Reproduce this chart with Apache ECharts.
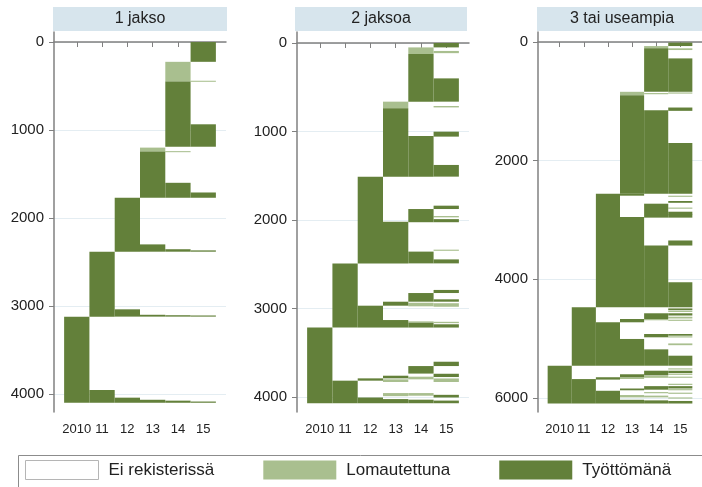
<!DOCTYPE html>
<html>
<head>
<meta charset="utf-8">
<script src="https://cdn.jsdelivr.net/npm/echarts@6/dist/echarts.min.js"></script>
<style>
html,body{margin:0;padding:0;background:#fff;}
#chart{width:702px;height:487px;}
</style>
</head>
<body>
<div id="chart"></div>
<script>
// ---- data ----
var panelTitles = ['1 jakso', '2 jaksoa', '3 tai useampia'];
var stateNames = ['Ei rekisterissä', 'Lomautettuna', 'Työttömänä'];
var xTickValues = [2010, 2011, 2012, 2013, 2014, 2015];
var xTickLabels = ['2010', '11', '12', '13', '14', '15'];
var yTicksP1 = [0, 1000, 2000, 3000, 4000];
var yTicksP2 = [0, 1000, 2000, 3000, 4000];
var yTicksP3 = [0, 2000, 4000, 6000];

// runs: [year, firstRow, lastRow, state]  state 1 = Lomautettuna, 2 = Työttömänä
var runsP1 = [
  [2015, 0, 225, 2],
  [2014, 225, 450, 1],
  [2015, 440, 452, 1],
  [2014, 450, 1190, 2],
  [2015, 935, 1190, 2],
  [2013, 1200, 1245, 1],
  [2014, 1240, 1252, 1],
  [2013, 1245, 1770, 2],
  [2014, 1600, 1770, 2],
  [2015, 1710, 1770, 2],
  [2012, 1770, 2383, 2],
  [2013, 2300, 2383, 2],
  [2014, 2355, 2383, 2],
  [2015, 2368, 2383, 2],
  [2011, 2383, 3121, 2],
  [2012, 3038, 3121, 2],
  [2013, 3100, 3121, 2],
  [2014, 3105, 3121, 2],
  [2015, 3108, 3121, 2],
  [2010, 3121, 4100, 2],
  [2011, 3955, 4100, 2],
  [2012, 4042, 4100, 2],
  [2013, 4066, 4100, 2],
  [2014, 4076, 4100, 2],
  [2015, 4086, 4100, 2]
];

var runsP2 = [
  [2015, 0, 50, 2],
  [2014, 50, 125, 1],
  [2015, 90, 115, 1],
  [2014, 125, 663, 2],
  [2015, 400, 663, 2],
  [2013, 663, 738, 1],
  [2015, 712, 728, 1],
  [2013, 738, 1510, 2],
  [2015, 1002, 1058, 2],
  [2014, 1050, 1510, 2],
  [2015, 1378, 1510, 2],
  [2012, 1510, 2490, 2],
  [2015, 1838, 1876, 2],
  [2014, 1876, 2025, 2],
  [2015, 1955, 1970, 1],
  [2015, 1990, 2025, 2],
  [2013, 2020, 2490, 2],
  [2015, 2335, 2348, 1],
  [2014, 2357, 2490, 2],
  [2015, 2445, 2490, 2],
  [2011, 2490, 3215, 2],
  [2015, 2790, 2825, 2],
  [2014, 2825, 2923, 2],
  [2015, 2896, 2923, 2],
  [2013, 2923, 2968, 2],
  [2014, 2935, 2975, 1],
  [2015, 2940, 2980, 1],
  [2012, 2968, 3215, 2],
  [2013, 3130, 3215, 2],
  [2014, 3145, 3160, 1],
  [2015, 3150, 3165, 1],
  [2014, 3160, 3215, 2],
  [2015, 3178, 3215, 2],
  [2010, 3215, 4070, 2],
  [2015, 3601, 3650, 2],
  [2014, 3650, 3735, 2],
  [2015, 3737, 3774, 2],
  [2013, 3759, 3789, 2],
  [2014, 3770, 3800, 1],
  [2015, 3790, 3830, 1],
  [2012, 3789, 3815, 2],
  [2013, 3800, 3830, 1],
  [2011, 3815, 4070, 2],
  [2013, 3955, 3990, 1],
  [2014, 3955, 3985, 1],
  [2015, 3975, 4005, 2],
  [2012, 4005, 4070, 2],
  [2013, 4023, 4070, 2],
  [2014, 4030, 4070, 2],
  [2015, 4040, 4070, 2]
];

var runsP3 = [
  [2015, 10, 68, 2],
  [2014, 68, 106, 1],
  [2015, 106, 135, 1],
  [2014, 106, 839, 2],
  [2015, 276, 839, 2],
  [2013, 839, 895, 1],
  [2014, 860, 880, 1],
  [2015, 850, 870, 1],
  [2013, 895, 2556, 2],
  [2015, 1104, 1160, 2],
  [2014, 1149, 2556, 2],
  [2015, 1700, 2556, 2],
  [2012, 2556, 4471, 2],
  [2013, 2556, 2590, 2],
  [2015, 2590, 2610, 1],
  [2015, 2680, 2710, 2],
  [2014, 2725, 2960, 2],
  [2015, 2790, 2810, 1],
  [2015, 2860, 2960, 2],
  [2015, 2900, 2915, 1],
  [2013, 2951, 4471, 2],
  [2015, 3345, 3430, 2],
  [2014, 3430, 4471, 2],
  [2015, 4049, 4471, 2],
  [2011, 4471, 5456, 2],
  [2015, 4490, 4520, 2],
  [2015, 4530, 4550, 1],
  [2014, 4572, 4668, 2],
  [2015, 4572, 4610, 2],
  [2015, 4630, 4660, 1],
  [2014, 4668, 4690, 1],
  [2013, 4668, 4724, 2],
  [2015, 4680, 4700, 1],
  [2012, 4724, 5456, 2],
  [2014, 4921, 4977, 2],
  [2015, 4921, 4950, 2],
  [2015, 4960, 4980, 1],
  [2013, 5005, 5456, 2],
  [2015, 5080, 5110, 1],
  [2014, 5180, 5456, 2],
  [2015, 5287, 5456, 2],
  [2010, 5456, 6093, 2],
  [2015, 5500, 5520, 1],
  [2014, 5540, 5620, 2],
  [2015, 5540, 5580, 2],
  [2015, 5590, 5610, 1],
  [2013, 5600, 5650, 2],
  [2014, 5630, 5660, 1],
  [2013, 5650, 5680, 1],
  [2015, 5640, 5660, 1],
  [2012, 5650, 5690, 2],
  [2011, 5681, 6093, 2],
  [2015, 5760, 5780, 1],
  [2014, 5800, 5860, 2],
  [2015, 5800, 5840, 2],
  [2013, 5840, 5870, 2],
  [2015, 5850, 5870, 1],
  [2012, 5878, 6093, 2],
  [2014, 5900, 5920, 1],
  [2015, 5910, 5930, 1],
  [2013, 5950, 5990, 1],
  [2014, 5960, 5990, 1],
  [2015, 5990, 6010, 1],
  [2013, 6030, 6093, 2],
  [2014, 6040, 6093, 2],
  [2015, 6050, 6093, 2]
];

// ---- styling / layout ----
var stateColors = ['#ffffff', '#a9bf8f', '#63803a'];
var FONT = 'Liberation Sans, Arial, sans-serif';
var panelRuns = [runsP1, runsP2, runsP3];
var panelYTicks = [yTicksP1, yTicksP2, yTicksP3];
var gridLeft = [54, 297, 538];
var yMin = [-114, -124, -169];
var yMax = [4205, 4169, 6236];
var headerX = [53, 295, 537];
var headerW = [174, 172, 170];

var chart = echarts.init(document.getElementById('chart'), null, {renderer: 'canvas'});

var grids = [], xAxes = [], yAxes = [], series = [], graphics = [];
for (var p = 0; p < 3; p++) {
  grids.push({left: gridLeft[p], top: 32, width: 172, height: 380, containLabel: false});
  xAxes.push({
    type: 'value', gridIndex: p, min: 2009.1, max: 2015.9,
    axisLine: {show: true, lineStyle: {color: '#808080', width: 1.5}},
    axisTick: {show: true, length: 5, customValues: xTickValues, lineStyle: {color: '#808080', width: 1}},
    axisLabel: {customValues: xTickValues, margin: 11, fontFamily: FONT, fontSize: 13, color: '#222',
      formatter: function (v) { var i = xTickValues.indexOf(Math.round(v)); return i >= 0 ? xTickLabels[i] : ''; }},
    splitLine: {show: false}
  });
  var yt = panelYTicks[p];
  yAxes.push({
    type: 'value', gridIndex: p, inverse: true, min: yMin[p], max: yMax[p],
    axisLine: {show: true, lineStyle: {color: '#808080', width: 1.5}},
    axisTick: {show: true, length: 5, customValues: yt, lineStyle: {color: '#808080', width: 1}},
    axisLabel: {customValues: yt, margin: 10, fontFamily: FONT, fontSize: 15, color: '#222',
      formatter: function (v) { return String(Math.round(v)); }},
    splitLine: {show: true, lineStyle: {color: '#e4edf2', width: 1}}
  });
  for (var s = 1; s <= 2; s++) {
    var d = panelRuns[p].filter(function (r) { return r[3] === s; });
    series.push({
      type: 'custom', name: stateNames[s], xAxisIndex: p, yAxisIndex: p,
      itemStyle: {color: stateColors[s]}, silent: true, clip: true,
      encode: {x: 0, y: [1, 2]},
      data: d,
      renderItem: function (params, api) {
        var yr = api.value(0), a = api.value(1), b = api.value(2);
        var p0 = api.coord([yr - 0.5, a]);
        var p1 = api.coord([yr + 0.5, b]);
        return {type: 'rect', shape: {x: p0[0], y: p0[1], width: p1[0] - p0[0], height: Math.max(p1[1] - p0[1], 1)},
          style: {fill: api.visual('color')}};
      }
    });
  }
  graphics.push({type: 'rect', left: headerX[p], top: 7, shape: {width: headerW[p], height: 24}, style: {fill: '#d7e5ed'}, z: 10});
  graphics.push({type: 'text', x: headerX[p] + headerW[p] / 2, y: 19, style: {text: panelTitles[p], font: '16px ' + FONT, fill: '#222', textAlign: 'center', textVerticalAlign: 'middle'}, z: 11});
}
// legend-only series for the white state
series.push({type: 'custom', name: stateNames[0], xAxisIndex: 0, yAxisIndex: 0, itemStyle: {color: stateColors[0]}, data: [],
  renderItem: function () { return null; }});

graphics.push({type: 'rect', left: 16, top: 453, shape: {width: 684, height: 50}, style: {fill: 'none', stroke: '#8c8c8c', lineWidth: 1}, z: 5});

chart.setOption({
  animation: false,
  backgroundColor: '#fff',
  grid: grids, xAxis: xAxes, yAxis: yAxes, series: series,
  graphic: graphics,
  legend: {
    left: 25, top: 460, padding: 0, itemWidth: 73, itemHeight: 19, itemGap: 49, icon: 'rect',
    selectedMode: false,
    textStyle: {fontFamily: FONT, fontSize: 17, color: '#222', padding: [0, 0, 0, 5]},
    data: [
      {name: stateNames[0], itemStyle: {color: stateColors[0], borderColor: '#b5b5b5', borderWidth: 1}},
      {name: stateNames[1], itemStyle: {color: stateColors[1]}},
      {name: stateNames[2], itemStyle: {color: stateColors[2]}}
    ]
  }
});
</script>
</body>
</html>
